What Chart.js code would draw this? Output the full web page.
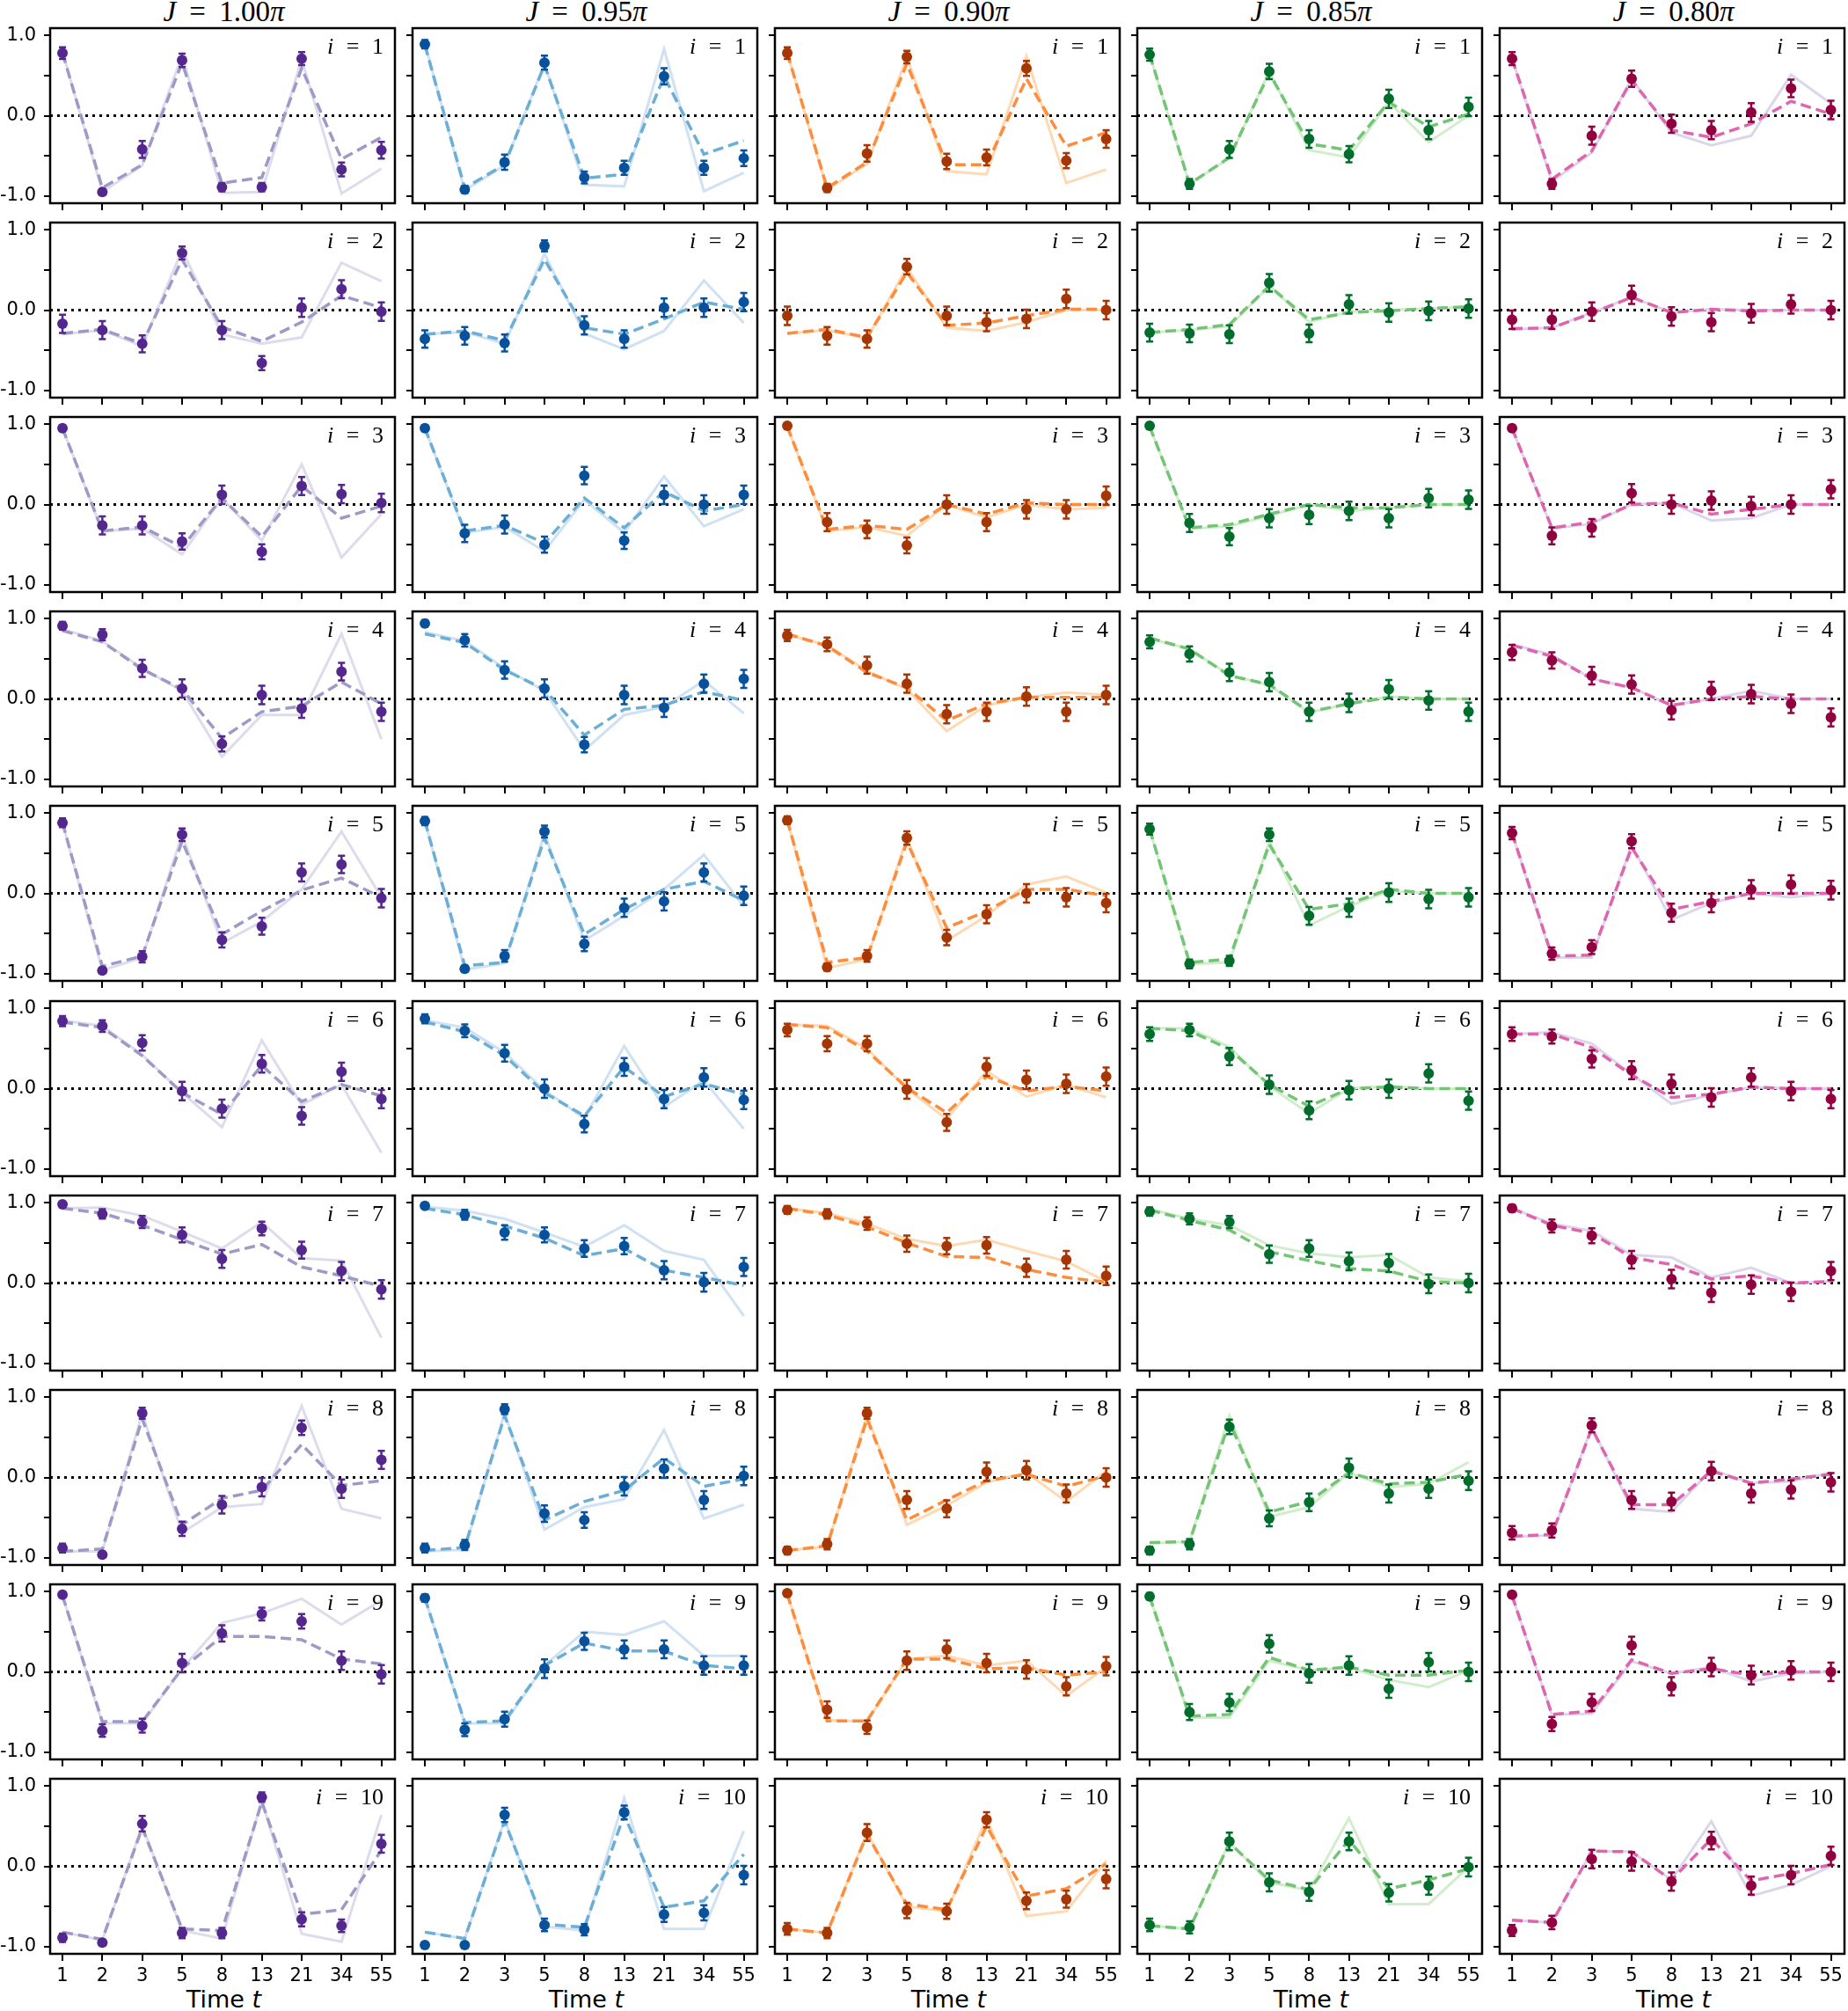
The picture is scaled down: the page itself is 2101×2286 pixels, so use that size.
<!DOCTYPE html>
<html>
<head>
<title>Site magnetisation vs time</title>
<script src="https://cdn.jsdelivr.net/npm/chart.js"></script>
<style>
  body { margin: 0; background: #fff; }
  #page { position: relative; width: 2101px; height: 2286px; overflow: hidden; background: #fff; }
  #page canvas { position: absolute; }
  .colTitle { position: absolute; width: 300px; text-align: center; font: 33px 'Liberation Serif', serif; line-height: 33px; word-spacing: 7px; white-space: nowrap; color: #000; }
  .site { position: absolute; text-align: right; font: 26px 'Liberation Serif', serif; line-height: 26px; word-spacing: 8px; white-space: nowrap; color: #000; }
  .xTitle { position: absolute; width: 300px; text-align: center; font: 27px 'DejaVu Sans', sans-serif; line-height: 27px; white-space: nowrap; color: #000; }
</style>
</head>
<body>
<div id="page"></div>
<script>
// x categories (time steps) and y ticks
const timeLabels = ['1', '2', '3', '5', '8', '13', '21', '34', '55'];
const couplings = ['1.00', '0.95', '0.90', '0.85', '0.80'];
const yTickValues = [-1, -0.5, 0, 0.5, 1];
const yTickLabels = ['-1.0', '', '0.0', '', '1.0'];

// rows = site i (1..10), columns = time index
// J = 1.00 pi
const exp100 = [
  [0.78, -0.95, -0.42, 0.69, -0.89, -0.89, 0.71, -0.67, -0.43],
  [-0.17, -0.25, -0.42, 0.71, -0.25, -0.66, 0.03, 0.26, -0.02],
  [0.95, -0.26, -0.26, -0.46, 0.12, -0.59, 0.23, 0.13, 0.02],
  [0.91, 0.80, 0.38, 0.13, -0.56, 0.05, -0.12, 0.34, -0.16],
  [0.88, -0.96, -0.79, 0.73, -0.58, -0.41, 0.26, 0.36, -0.06],
  [0.84, 0.78, 0.57, -0.03, -0.25, 0.31, -0.34, 0.21, -0.13],
  [0.98, 0.86, 0.76, 0.60, 0.30, 0.68, 0.41, 0.15, -0.08],
  [-0.88, -0.96, 0.80, -0.64, -0.34, -0.12, 0.62, -0.14, 0.22],
  [0.96, -0.73, -0.67, 0.11, 0.48, 0.72, 0.63, 0.14, -0.03],
  [-0.89, -0.95, 0.53, -0.83, -0.83, 0.86, -0.66, -0.74, 0.28]
];
const sim100 = [
  [0.78, -0.90, -0.61, 0.66, -0.84, -0.77, 0.59, -0.54, -0.27],
  [-0.29, -0.24, -0.42, 0.63, -0.21, -0.39, -0.15, 0.18, 0.03],
  [0.95, -0.33, -0.28, -0.53, 0.08, -0.40, 0.23, -0.17, -0.02],
  [0.85, 0.71, 0.37, 0.12, -0.49, -0.16, -0.09, 0.21, -0.06],
  [0.88, -0.91, -0.78, 0.65, -0.51, -0.22, 0.04, 0.19, -0.05],
  [0.83, 0.76, 0.41, -0.05, -0.32, 0.29, -0.16, 0.05, -0.09],
  [0.93, 0.87, 0.72, 0.54, 0.36, 0.48, 0.20, 0.09, -0.04],
  [-0.92, -0.89, 0.73, -0.59, -0.26, -0.16, 0.41, -0.10, -0.04],
  [0.95, -0.62, -0.62, 0.04, 0.44, 0.44, 0.40, 0.16, 0.10],
  [-0.82, -0.91, 0.48, -0.78, -0.80, 0.80, -0.60, -0.54, 0.20]
];
const ideal100 = [
  [0.80, -0.95, -0.62, 0.75, -0.96, -0.95, 0.70, -0.97, -0.66],
  [-0.30, -0.25, -0.45, 0.75, -0.30, -0.42, -0.34, 0.59, 0.36],
  [0.95, -0.33, -0.30, -0.62, 0.08, -0.45, 0.50, -0.66, -0.12],
  [0.87, 0.72, 0.38, 0.10, -0.72, -0.20, -0.20, 0.81, -0.50],
  [0.88, -0.96, -0.80, 0.73, -0.62, -0.35, 0.05, 0.77, -0.05],
  [0.85, 0.78, 0.42, -0.05, -0.48, 0.60, -0.20, 0.05, -0.80],
  [0.93, 0.94, 0.84, 0.64, 0.43, 0.76, 0.31, 0.28, -0.68],
  [-0.92, -0.92, 0.80, -0.69, -0.37, -0.33, 0.89, -0.39, -0.51],
  [0.95, -0.64, -0.64, 0.04, 0.61, 0.73, 0.91, 0.59, 0.89],
  [-0.82, -0.92, 0.50, -0.80, -0.90, 0.82, -0.84, -0.94, 0.64]
];

// J = 0.95 pi
const exp095 = [
  [0.89, -0.92, -0.58, 0.66, -0.77, -0.65, 0.49, -0.65, -0.53],
  [-0.36, -0.32, -0.41, 0.80, -0.19, -0.36, 0.03, 0.03, 0.10],
  [0.95, -0.36, -0.25, -0.50, 0.36, -0.45, 0.12, 0.00, 0.12],
  [0.94, 0.73, 0.36, 0.13, -0.57, 0.05, -0.11, 0.19, 0.25],
  [0.90, -0.94, -0.78, 0.77, -0.63, -0.18, -0.10, 0.26, -0.03],
  [0.87, 0.72, 0.44, 0.00, -0.44, 0.27, -0.13, 0.14, -0.14],
  [0.96, 0.85, 0.63, 0.60, 0.43, 0.46, 0.16, 0.01, 0.20],
  [-0.88, -0.84, 0.85, -0.45, -0.53, -0.11, 0.11, -0.28, 0.02],
  [0.92, -0.72, -0.59, 0.04, 0.38, 0.28, 0.28, 0.08, 0.08],
  [-0.98, -0.98, 0.64, -0.73, -0.79, 0.67, -0.60, -0.58, -0.11]
];
const sim095 = [
  [0.88, -0.90, -0.61, 0.63, -0.78, -0.73, 0.49, -0.48, -0.31],
  [-0.30, -0.26, -0.38, 0.63, -0.22, -0.30, -0.11, 0.10, 0.01],
  [0.95, -0.33, -0.26, -0.48, 0.08, -0.29, 0.16, -0.08, 0.00],
  [0.81, 0.70, 0.36, 0.12, -0.45, -0.13, -0.08, 0.09, -0.02],
  [0.90, -0.90, -0.86, 0.69, -0.51, -0.20, 0.05, 0.15, -0.09],
  [0.83, 0.71, 0.41, -0.05, -0.34, 0.27, -0.10, 0.06, -0.07],
  [0.93, 0.85, 0.71, 0.56, 0.34, 0.43, 0.16, 0.07, -0.03],
  [-0.91, -0.87, 0.77, -0.53, -0.30, -0.16, 0.24, -0.11, -0.02],
  [0.92, -0.63, -0.61, 0.08, 0.36, 0.26, 0.26, 0.08, 0.04],
  [-0.82, -0.90, 0.56, -0.72, -0.76, 0.64, -0.51, -0.43, 0.15]
];
const ideal095 = [
  [0.90, -0.93, -0.62, 0.65, -0.86, -0.88, 0.83, -0.94, -0.71],
  [-0.30, -0.27, -0.42, 0.70, -0.29, -0.49, -0.26, 0.37, -0.16],
  [0.95, -0.35, -0.28, -0.58, 0.06, -0.35, 0.35, -0.27, -0.06],
  [0.83, 0.72, 0.38, 0.10, -0.64, -0.20, -0.10, 0.23, -0.18],
  [0.90, -0.95, -0.87, 0.74, -0.59, -0.28, 0.05, 0.48, -0.16],
  [0.85, 0.76, 0.45, -0.02, -0.37, 0.53, -0.23, 0.10, -0.50],
  [0.95, 0.90, 0.80, 0.63, 0.45, 0.72, 0.40, 0.29, -0.41],
  [-0.92, -0.90, 0.80, -0.65, -0.37, -0.27, 0.59, -0.51, -0.34],
  [0.92, -0.64, -0.64, 0.08, 0.50, 0.46, 0.63, 0.20, 0.20],
  [-0.82, -0.90, 0.58, -0.75, -0.80, 0.85, -0.78, -0.78, 0.44]
];

// J = 0.90 pi
const exp090 = [
  [0.78, -0.90, -0.47, 0.73, -0.57, -0.52, 0.59, -0.56, -0.29],
  [-0.07, -0.32, -0.36, 0.54, -0.07, -0.15, -0.11, 0.14, 0.00],
  [0.98, -0.22, -0.31, -0.51, 0.00, -0.22, -0.06, -0.06, 0.11],
  [0.79, 0.68, 0.42, 0.19, -0.19, -0.16, 0.03, -0.16, 0.05],
  [0.91, -0.92, -0.78, 0.69, -0.55, -0.26, 0.00, -0.05, -0.12],
  [0.73, 0.56, 0.56, -0.01, -0.42, 0.27, 0.11, 0.06, 0.15],
  [0.91, 0.86, 0.74, 0.49, 0.46, 0.47, 0.19, 0.29, 0.09],
  [-0.91, -0.83, 0.80, -0.28, -0.39, 0.07, 0.09, -0.20, 0.00],
  [0.98, -0.47, -0.69, 0.14, 0.28, 0.11, 0.03, -0.18, 0.07],
  [-0.78, -0.83, 0.42, -0.55, -0.56, 0.58, -0.43, -0.41, -0.16]
];
const sim090 = [
  [0.78, -0.90, -0.58, 0.65, -0.61, -0.61, 0.46, -0.38, -0.21],
  [-0.29, -0.24, -0.34, 0.47, -0.19, -0.16, -0.07, 0.01, 0.01],
  [0.97, -0.31, -0.26, -0.31, 0.00, -0.12, 0.02, 0.00, 0.00],
  [0.81, 0.66, 0.33, 0.14, -0.27, -0.06, 0.02, 0.02, 0.02],
  [0.91, -0.86, -0.80, 0.64, -0.43, -0.22, 0.05, 0.05, -0.03],
  [0.80, 0.76, 0.47, 0.01, -0.30, 0.15, -0.03, 0.03, -0.03],
  [0.93, 0.85, 0.70, 0.50, 0.33, 0.32, 0.17, 0.07, 0.01],
  [-0.91, -0.85, 0.73, -0.53, -0.28, -0.04, 0.04, -0.11, 0.02],
  [0.97, -0.61, -0.61, 0.16, 0.16, 0.04, 0.05, -0.04, 0.00],
  [-0.78, -0.83, 0.40, -0.47, -0.54, 0.50, -0.37, -0.28, 0.03]
];
const ideal090 = [
  [0.78, -0.92, -0.60, 0.73, -0.69, -0.73, 0.74, -0.84, -0.67],
  [-0.29, -0.25, -0.35, 0.53, -0.22, -0.26, -0.15, 0.00, 0.00],
  [0.97, -0.33, -0.28, -0.39, 0.00, -0.16, 0.00, -0.06, -0.04],
  [0.80, 0.67, 0.35, 0.12, -0.40, -0.08, 0.02, 0.08, 0.05],
  [0.91, -0.93, -0.82, 0.69, -0.59, -0.28, 0.11, 0.21, 0.01],
  [0.80, 0.78, 0.50, 0.00, -0.38, 0.22, -0.10, 0.05, -0.11],
  [0.93, 0.87, 0.74, 0.55, 0.46, 0.54, 0.40, 0.27, 0.02],
  [-0.91, -0.86, 0.78, -0.59, -0.35, -0.06, 0.06, -0.30, 0.08],
  [0.97, -0.60, -0.62, 0.16, 0.20, 0.08, 0.14, -0.30, 0.06],
  [-0.78, -0.83, 0.42, -0.50, -0.56, 0.60, -0.62, -0.56, 0.07]
];

// J = 0.85 pi
const exp085 = [
  [0.76, -0.85, -0.42, 0.55, -0.29, -0.48, 0.21, -0.18, 0.11],
  [-0.28, -0.29, -0.30, 0.34, -0.29, 0.07, -0.03, -0.01, 0.02],
  [0.98, -0.23, -0.40, -0.17, -0.13, -0.08, -0.17, 0.08, 0.06],
  [0.71, 0.56, 0.33, 0.21, -0.16, -0.05, 0.12, -0.02, -0.16],
  [0.80, -0.88, -0.84, 0.73, -0.28, -0.18, 0.01, -0.07, -0.05],
  [0.68, 0.73, 0.40, 0.05, -0.27, -0.02, 0.00, 0.19, -0.15],
  [0.89, 0.80, 0.76, 0.36, 0.43, 0.27, 0.25, -0.01, 0.00],
  [-0.91, -0.83, 0.63, -0.51, -0.31, 0.12, -0.20, -0.14, -0.04],
  [0.94, -0.50, -0.38, 0.35, -0.02, 0.08, -0.21, 0.12, 0.00],
  [-0.73, -0.76, 0.31, -0.20, -0.32, 0.31, -0.33, -0.24, -0.01]
];
const sim085 = [
  [0.76, -0.85, -0.52, 0.53, -0.35, -0.43, 0.17, -0.14, 0.02],
  [-0.28, -0.24, -0.18, 0.30, -0.12, -0.03, -0.01, 0.02, 0.04],
  [0.97, -0.29, -0.25, -0.12, 0.00, -0.04, -0.04, 0.00, 0.00],
  [0.76, 0.62, 0.29, 0.18, -0.16, -0.06, 0.02, 0.00, 0.00],
  [0.80, -0.86, -0.82, 0.61, -0.20, -0.13, 0.05, 0.00, 0.00],
  [0.75, 0.72, 0.49, 0.05, -0.22, 0.00, 0.02, 0.00, 0.00],
  [0.91, 0.78, 0.66, 0.39, 0.28, 0.18, 0.15, 0.02, 0.00],
  [-0.81, -0.80, 0.69, -0.43, -0.30, 0.06, -0.08, -0.06, 0.04],
  [0.94, -0.55, -0.53, 0.18, 0.02, 0.06, -0.04, -0.04, 0.02],
  [-0.74, -0.78, 0.29, -0.17, -0.29, 0.33, -0.28, -0.17, -0.03]
];
const ideal085 = [
  [0.76, -0.85, -0.53, 0.55, -0.43, -0.52, 0.17, -0.33, 0.00],
  [-0.28, -0.25, -0.20, 0.30, -0.15, -0.02, 0.00, 0.02, 0.04],
  [0.97, -0.30, -0.27, -0.14, 0.00, -0.08, -0.04, 0.00, 0.00],
  [0.75, 0.62, 0.30, 0.17, -0.17, -0.06, 0.03, 0.00, 0.00],
  [0.80, -0.88, -0.86, 0.65, -0.40, -0.16, 0.03, 0.00, 0.00],
  [0.75, 0.75, 0.52, 0.03, -0.31, 0.00, 0.03, 0.00, 0.00],
  [0.92, 0.80, 0.72, 0.47, 0.37, 0.32, 0.35, 0.07, 0.02],
  [-0.82, -0.80, 0.77, -0.49, -0.37, 0.06, -0.12, -0.08, 0.19],
  [0.94, -0.57, -0.57, 0.14, 0.02, 0.05, -0.10, -0.19, 0.02],
  [-0.74, -0.78, 0.30, -0.20, -0.30, 0.60, -0.47, -0.47, -0.01]
];

// J = 0.80 pi
const exp080 = [
  [0.71, -0.85, -0.25, 0.46, -0.10, -0.18, 0.04, 0.34, 0.07],
  [-0.12, -0.12, -0.02, 0.19, -0.08, -0.15, -0.04, 0.07, 0.00],
  [0.95, -0.39, -0.29, 0.14, 0.00, 0.05, -0.02, 0.00, 0.19],
  [0.58, 0.48, 0.29, 0.18, -0.14, 0.10, 0.06, -0.06, -0.23],
  [0.75, -0.75, -0.67, 0.65, -0.24, -0.12, 0.05, 0.11, 0.04],
  [0.68, 0.65, 0.37, 0.23, 0.06, -0.11, 0.14, -0.03, -0.13],
  [0.93, 0.71, 0.59, 0.29, 0.05, -0.12, -0.02, -0.11, 0.15],
  [-0.69, -0.66, 0.65, -0.28, -0.30, 0.08, -0.20, -0.15, -0.06],
  [0.96, -0.65, -0.38, 0.33, -0.18, 0.06, -0.04, 0.02, 0.00],
  [-0.80, -0.70, 0.09, 0.06, -0.19, 0.32, -0.24, -0.11, 0.13]
];
const sim080 = [
  [0.71, -0.79, -0.44, 0.44, -0.18, -0.27, -0.10, 0.18, 0.02],
  [-0.23, -0.22, -0.04, 0.16, -0.03, 0.01, -0.01, 0.00, 0.00],
  [0.95, -0.29, -0.22, 0.00, 0.02, -0.12, -0.06, 0.00, 0.00],
  [0.67, 0.53, 0.25, 0.14, -0.08, 0.00, 0.03, 0.00, 0.00],
  [0.75, -0.78, -0.77, 0.57, -0.20, -0.10, 0.00, 0.00, 0.00],
  [0.68, 0.68, 0.51, 0.17, -0.11, -0.07, 0.02, 0.00, 0.00],
  [0.93, 0.72, 0.62, 0.32, 0.23, 0.05, 0.09, 0.00, 0.02],
  [-0.73, -0.71, 0.61, -0.34, -0.34, 0.08, -0.07, -0.02, 0.04],
  [0.95, -0.53, -0.49, 0.15, -0.02, 0.04, -0.04, 0.00, 0.00],
  [-0.67, -0.70, 0.19, 0.18, -0.17, 0.34, -0.18, -0.09, 0.02]
];
const ideal080 = [
  [0.71, -0.82, -0.46, 0.46, -0.21, -0.37, -0.25, 0.51, 0.15],
  [-0.24, -0.22, -0.03, 0.16, -0.03, 0.01, 0.00, 0.00, 0.00],
  [0.95, -0.30, -0.24, 0.00, 0.02, -0.20, -0.17, 0.00, 0.00],
  [0.68, 0.55, 0.25, 0.14, -0.08, 0.00, 0.10, 0.00, 0.00],
  [0.75, -0.80, -0.80, 0.60, -0.33, -0.12, 0.00, -0.05, 0.00],
  [0.68, 0.70, 0.56, 0.18, -0.19, -0.08, 0.02, 0.00, 0.00],
  [0.93, 0.74, 0.65, 0.35, 0.32, 0.07, 0.19, 0.00, 0.02],
  [-0.74, -0.72, 0.63, -0.39, -0.43, 0.10, -0.07, -0.05, 0.06],
  [0.95, -0.53, -0.52, 0.13, -0.02, 0.06, -0.12, -0.02, 0.00],
  [-0.67, -0.70, 0.19, 0.18, -0.17, 0.56, -0.37, -0.23, 0.00]
];

const pointColors = ['#54278f', '#08519c', '#a63603', '#006d2c', '#91003f'];
const dashColors = ['#9e9ac8', '#6baed6', '#fd8d3c', '#74c476', '#df65b0'];
const faintColors = ['#dddcec', '#cfe1f2', '#fdd9b4', '#d2edcc', '#dcd6ea'];
const SHOTS = 75; // error bar = shot noise of each measured value

const columns = [
  { exp: exp100, sim: sim100, ideal: ideal100 },
  { exp: exp095, sim: sim095, ideal: ideal095 },
  { exp: exp090, sim: sim090, ideal: ideal090 },
  { exp: exp085, sim: sim085, ideal: ideal085 },
  { exp: exp080, sim: sim080, ideal: ideal080 }
];

// layout of the grid (page pixels)
const LEFT0 = 57, TOP0 = 29, COL_PITCH = 412, ROW_PITCH = 221.1;
const BOX_W = 395, BOX_H = 202, AXIS_W = 57, PAD = 3;

const zeroLine = {
  id: 'zeroLine',
  beforeDatasetsDraw(chart) {
    const { ctx, chartArea: a, scales: { y } } = chart;
    const py = y.getPixelForValue(0);
    ctx.save();
    ctx.strokeStyle = '#000';
    ctx.lineWidth = 3;
    ctx.setLineDash([3, 5]);
    ctx.beginPath();
    ctx.moveTo(a.left, py);
    ctx.lineTo(a.right, py);
    ctx.stroke();
    ctx.restore();
  }
};

const errorBars = {
  id: 'errorBars',
  afterDatasetsDraw(chart) {
    const { ctx, scales: { x, y } } = chart;
    chart.data.datasets.forEach(ds => {
      if (!ds.errors) return;
      ctx.save();
      ctx.strokeStyle = ds.pointBackgroundColor;
      ctx.lineWidth = 2.5;
      ds.data.forEach((p, k) => {
        const e = ds.errors[k];
        const px = x.getPixelForValue(p.x);
        const top = y.getPixelForValue(p.y + e);
        const bot = y.getPixelForValue(p.y - e);
        ctx.beginPath();
        ctx.moveTo(px, top); ctx.lineTo(px, bot);
        ctx.moveTo(px - 4, top); ctx.lineTo(px + 4, top);
        ctx.moveTo(px - 4, bot); ctx.lineTo(px + 4, bot);
        ctx.stroke();
      });
      ctx.restore();
    });
  }
};

const frame = {
  id: 'frame',
  afterDraw(chart) {
    const { ctx, chartArea: a } = chart;
    ctx.save();
    ctx.strokeStyle = '#000';
    ctx.lineWidth = 2.5;
    ctx.strokeRect(a.left, a.top, a.right - a.left, a.bottom - a.top);
    ctx.restore();
  }
};

const page = document.getElementById('page');
const pts = arr => arr.map((v, k) => ({ x: k, y: v }));

// keep every chart area the same size, whatever labels an axis carries
function noLabelPadding(s) {
  s.paddingTop = 0; s.paddingBottom = 0; s.paddingLeft = 0; s.paddingRight = 0;
}

function addText(cls, html, left, top, width) {
  const d = document.createElement('div');
  d.className = cls;
  d.innerHTML = html;
  d.style.left = left + 'px';
  d.style.top = top + 'px';
  if (width) d.style.width = width + 'px';
  page.appendChild(d);
}

for (let c = 0; c < 5; c++) {
  const boxLeft = LEFT0 + c * COL_PITCH;
  addText('colTitle', '<i>J</i> = ' + couplings[c] + '<i>π</i>', boxLeft + BOX_W / 2 - 150, -3);
  addText('xTitle', 'Time <i>t</i>', boxLeft + BOX_W / 2 - 150, 2259);

  for (let r = 0; r < 10; r++) {
    const boxTop = Math.round(TOP0 + r * ROW_PITCH);
    const bottom = r === 9;
    const axisH = bottom ? 40 : 10;
    const col = columns[c];

    const cv = document.createElement('canvas');
    cv.width = AXIS_W + BOX_W + PAD;
    cv.height = PAD + BOX_H + axisH;
    cv.style.left = (boxLeft - AXIS_W) + 'px';
    cv.style.top = (boxTop - PAD) + 'px';
    page.appendChild(cv);

    const tickFont = { family: 'DejaVu Sans', size: 21 };

    new Chart(cv, {
      type: 'line',
      data: {
        datasets: [
          { data: pts(col.ideal[r]), borderColor: faintColors[c], borderWidth: 3,
            pointRadius: 0, order: 3 },
          { data: pts(col.sim[r]), borderColor: dashColors[c], borderWidth: 3.5,
            borderDash: [12, 6], pointRadius: 0, order: 2 },
          { data: pts(col.exp[r]), showLine: false, pointRadius: 6,
            pointBackgroundColor: pointColors[c], pointBorderWidth: 0, order: 1,
            errors: col.exp[r].map(v => Math.sqrt(Math.max(0, 1 - v * v) / SHOTS)) }
        ]
      },
      options: {
        responsive: false,
        animation: false,
        devicePixelRatio: 1,
        events: [],
        layout: { padding: { top: PAD, right: PAD, left: 0, bottom: 0 } },
        plugins: { legend: { display: false }, tooltip: { enabled: false } },
        scales: {
          x: {
            type: 'linear', min: -0.31, max: 8.34,
            afterBuildTicks: s => { s.ticks = timeLabels.map((_, k) => ({ value: k })); },
            afterFit: s => { s.height = axisH; noLabelPadding(s); },
            border: { display: false },
            grid: { drawOnChartArea: false, tickLength: 8, color: '#000', lineWidth: 2 },
            ticks: { display: bottom, autoSkip: false, maxRotation: 0, padding: 5,
                     color: '#000', font: tickFont, callback: v => timeLabels[v] }
          },
          y: {
            min: -1.09, max: 1.09,
            afterBuildTicks: s => { s.ticks = yTickValues.map(v => ({ value: v })); },
            afterFit: s => { s.width = AXIS_W; noLabelPadding(s); },
            border: { display: false },
            grid: { drawOnChartArea: false, tickLength: 7, color: '#000', lineWidth: 2 },
            ticks: { display: c === 0, padding: 9, color: '#000', font: tickFont,
                     callback: (v, i) => yTickLabels[i] }
          }
        }
      },
      plugins: [zeroLine, errorBars, frame]
    });

    addText('site', '<i>i</i> = ' + (r + 1), boxLeft, boxTop + 11, BOX_W - 16);
  }
}
</script>
</body>
</html>
